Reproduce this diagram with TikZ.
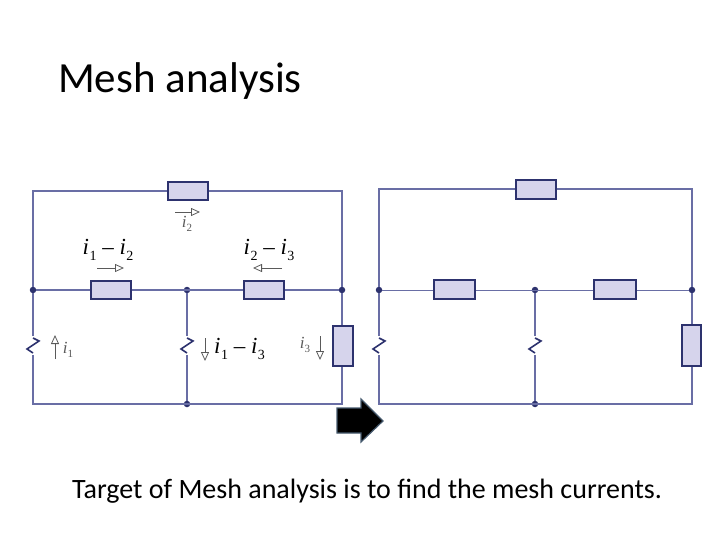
\documentclass[tikz,border=0pt]{standalone}
\usepackage{fontspec}
\setmainfont{Carlito}
\newfontfamily\ser{Liberation Serif}
\usetikzlibrary{arrows.meta}
\definecolor{wire}{RGB}{105,110,165}
\definecolor{rb}{RGB}{45,50,110}
\definecolor{rf}{RGB}{214,212,236}
\definecolor{ig}{RGB}{90,90,90}
\tikzset{
 w/.style={wire,line width=1.2pt},
 res/.style={draw=rb,fill=rf,line width=1.6pt},
 dot/.style={circle,fill=rb,inner sep=0pt,minimum size=6.5pt},
 cur/.style={ig,line width=0.8pt,-{Triangle[open,length=9pt,width=8pt,line width=0.8pt]}},
 zz/.style={rb,line width=1.6pt},
 lab/.style={inner sep=0pt,font=\ser\fontsize{23}{23}\selectfont},
 slab/.style={inner sep=0pt,ig,font=\ser\fontsize{17}{17}\selectfont},
}
\newcommand{\ii}[1]{\textit{i}\kern0.5pt\raisebox{-0.25em}{\fontsize{14}{14}\selectfont #1}}
\newcommand{\sii}[1]{\textit{i}\raisebox{-0.25em}{\fontsize{11}{11}\selectfont #1}}
\newcommand{\zig}[2]{\draw[zz] (#1,#2-12) -- (#1+6,#2-9) -- (#1-6,#2-1) -- (#1,#2+3);}
\begin{document}
\begin{tikzpicture}[x=1pt,y=-1pt]
\useasboundingbox (0,0) rectangle (720,540);
\node[anchor=base west,inner sep=0pt,font=\fontsize{43}{43}\selectfont] (title) at (58,93) {Mesh analysis};
% left circuit
\coordinate (LTL) at (33,191); \coordinate (LTR) at (342,191);
\node[dot] (LA) at (33,290) {}; \node[dot] (LB) at (187,290) {}; \node[dot] (LC) at (342,290) {};
\node[dot] (LD) at (187,404) {};
\coordinate (LBL) at (33,404); \coordinate (LBR) at (342,404);
\draw[w] (LA) -- (LTL) -- (LTR) -- (LC);
\draw[w] (LA) -- (LC);
\draw[w] (LA) -- (LBL) -- (LBR) -- (LC);
\draw[w] (LB) -- (LD);
\draw[res] (168,182) rectangle (208,200);
\draw[res] (91,281) rectangle (131,299);
\draw[res] (244,281) rectangle (284,299);
\draw[res] (333,326) rectangle (353,366);
\fill[white] (31,336) rectangle (35,355);
\fill[white] (185,336) rectangle (189,355);
\zig{33}{350} \zig{187}{350}
\draw[cur] (175,212) -- (200,212);
\node[slab] (li2) at (187,224) {\sii{2}};
\node[lab] (l12) at (108,250) {\ii{1} – \ii{2}};
\draw[cur] (97,268) -- (124,268);
\node[lab] (l23) at (269,250) {\ii{2} – \ii{3}};
\draw[cur] (282,268) -- (253,268);
\draw[cur] (55,359) -- (55,335);
\node[slab] (li1) at (68,350) {\sii{1}};
\draw[cur] (205,338) -- (205,361);
\node[lab,anchor=west] (l13) at (214,349) {\ii{1} – \ii{3}};
\node[slab] (li3) at (305,345) {\sii{3}};
\draw[cur] (320,336) -- (320,360);
% right circuit
\coordinate (RTL) at (379,189); \coordinate (RTR) at (692,189);
\node[dot] (RA) at (379,290) {}; \node[dot] (RB) at (535,290) {}; \node[dot] (RC) at (692,290) {};
\node[dot] (RD) at (535,404) {};
\coordinate (RBL) at (379,404); \coordinate (RBR) at (692,404);
\draw[w] (RA) -- (RTL) -- (RTR) -- (RC);
\draw[w,line width=0.7pt] (RA) -- (RC);
\draw[w] (RA) -- (RBL) -- (RBR) -- (RC);
\draw[w] (RB) -- (RD);
\draw[res] (516,180) rectangle (556,199);
\draw[res] (434,280) rectangle (475,299);
\draw[res] (594,280) rectangle (636,299);
\draw[res] (682,325) rectangle (701,366);
\fill[white] (377,336) rectangle (381,355);
\fill[white] (533,336) rectangle (537,355);
\zig{379}{350} \zig{535}{350}
% block arrow
\draw[draw={rgb,255:red,70;green,90;blue,110},fill=black,line width=1.2pt,line join=miter]
 (337,408) -- (361,408) -- (361,399) -- (383,421) -- (361,442) -- (361,433) -- (337,433) -- cycle;
\node[anchor=base west,inner sep=0pt,font=\fontsize{28}{28}\selectfont] (cap) at (72,498) {Target of Mesh analysis is to find the mesh currents.};
\end{tikzpicture}
\end{document}
